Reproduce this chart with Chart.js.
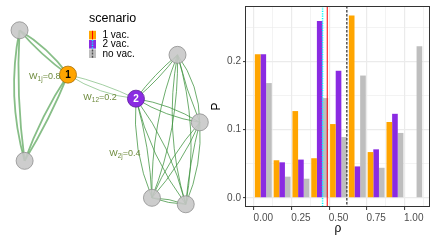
<!DOCTYPE html>
<html><head><meta charset="utf-8">
<script src="https://cdn.jsdelivr.net/npm/chart.js@4/dist/chart.umd.min.js"></script>
<style>
html,body{margin:0;padding:0;background:#fff;width:436px;height:245px;overflow:hidden}
#net{position:absolute;left:0;top:0}
#bar{position:absolute;left:200px;top:0}
</style></head><body>
<canvas id="net" width="436" height="245"></canvas>
<canvas id="bar" width="236" height="245"></canvas>
<script>
// ---------------- histogram data (right panel) ----------------
const rhoBins = [0, 0.125, 0.25, 0.375, 0.5, 0.625, 0.75, 0.875, 1.0];
const oneVac  = [0.210, 0.055, 0.127, 0.058, 0.108, 0.267, 0.067, 0.111, 0.0];
const twoVac  = [0.210, 0.052, 0.056, 0.259, 0.186, 0.046, 0.071, 0.123, 0.0];
const noVac   = [0.168, 0.031, 0.028, 0.146, 0.089, 0.179, 0.044, 0.095, 0.222];
const meanOneVac = 0.425;
const meanTwoVac = 0.394;
const meanNoVac  = 0.555;
const xTickValues = [0, 0.125, 0.25, 0.375, 0.5, 0.625, 0.75, 0.875, 1];
const xTickLabels = ['0.00', '', '0.25', '', '0.50', '', '0.75', '', '1.00'];
const yTickValues = [0, 0.05, 0.1, 0.15, 0.2, 0.25];
const yTickLabels = ['0.0', '', '0.1', '', '0.2', ''];
const scenarioNames = ['1 vac.', '2 vac.', 'no vac.'];

// ---------------- network (left panel) ----------------
const nodeLabels = ['', '1', '', '2', '', '', '', ''];
const nodeKind   = ['other', 'one', 'other', 'two', 'other', 'other', 'other', 'other'];
const nodeX = [10.7, 61.3, 16.0, 132.3, 175.7, 199.0, 149.0, 184.3];
const nodeY = [22.7, 70.7, 164.0, 96.7, 49.3, 122.3, 204.0, 211.0];
// [from, to, bend, group]
const edges = [
  [0,1, 0.03,'c1'], [0,1,-0.05,'c1'],
  [0,2, 0.06,'c1'], [0,2, 0.024,'c1'],
  [1,2, 0.03,'c1'], [1,2,-0.02,'c1'],
  [1,3,-0.027,'link'], [1,3, 0.06,'link'],
  [3,4, 0.03,'c2'], [3,4,-0.03,'c2'],
  [3,5, 0.05,'c2'], [3,5,-0.05,'c2'],
  [3,6, 0.06,'c2'], [3,6,-0.03,'c2'],
  [3,7, 0.05,'c2'], [3,7,-0.05,'c2'],
  [4,5,-0.08,'c2'], [4,5, 0.02,'c2'],
  [4,6, 0.05,'c2'], [4,6,-0.05,'c2'],
  [4,7, 0.06,'c2'], [4,7,-0.06,'c2'],
  [5,6, 0.04,'c2'], [5,6,-0.04,'c2'],
  [5,7,-0.06,'c2'], [5,7, 0.02,'c2'],
  [6,7, 0.04,'c2'], [6,7,-0.04,'c2']
];
const weightLabels = [
  {sub:'1j', val:'=0.8', x:20.7, y:72.7},
  {sub:'12', val:'=0.2', x:77.3, y:96.0},
  {sub:'2j', val:'=0.4', x:104.3, y:156.0}
];

const FONT = '"Liberation Sans", Arial, Helvetica, sans-serif';
const COL_ONE = '#FFA500', COL_TWO = '#8A2BE2', COL_NO = '#BEBEBE';
const LINE_ONE = '#FF0000', LINE_TWO = '#00FFFF', LINE_NO = '#4D4D4D';

// ---------- network chart ----------
const edgeStyle = {
  c1:   {color:'rgba(95,168,95,0.75)', width:1.8},
  c2:   {color:'rgba(60,145,60,0.75)', width:1.0},
  link: {color:'rgba(110,180,110,0.8)', width:0.8}
};
const nodeFill   = {other:'rgba(200,200,200,0.9)', one:COL_ONE, two:COL_TWO};
const nodeBorder = {other:'#8e8e8e', one:'#a86c00', two:'#5a1a99'};

const netPlugin = {
  id:'netPlugin',
  beforeDatasetsDraw(chart){
    const {ctx, scales:{x, y}} = chart;
    ctx.save();
    edges.forEach(([a,b,bend,g])=>{
      const x0 = x.getPixelForValue(nodeX[a]), y0 = y.getPixelForValue(nodeY[a]);
      const x1 = x.getPixelForValue(nodeX[b]), y1 = y.getPixelForValue(nodeY[b]);
      const dx = x1-x0, dy = y1-y0, L = Math.hypot(dx,dy);
      const nx = -dy/L, ny = dx/L;
      const cx = (x0+x1)/2 + nx*bend*L*2, cy = (y0+y1)/2 + ny*bend*L*2;
      ctx.strokeStyle = edgeStyle[g].color;
      ctx.lineWidth = edgeStyle[g].width;
      ctx.beginPath(); ctx.moveTo(x0,y0); ctx.quadraticCurveTo(cx,cy,x1,y1); ctx.stroke();
    });
    ctx.restore();
  },
  afterDatasetsDraw(chart){
    const {ctx, scales:{x, y}} = chart;
    ctx.save();
    // node labels
    ctx.textAlign = 'center'; ctx.textBaseline = 'middle';
    ctx.font = 'bold 10px ' + FONT;
    nodeLabels.forEach((t,i)=>{
      if(!t) return;
      ctx.fillStyle = nodeKind[i]==='two' ? '#ffffff' : '#000000';
      ctx.fillText(t, x.getPixelForValue(nodeX[i]), y.getPixelForValue(nodeY[i])+0.5);
    });
    // weight labels
    ctx.fillStyle = '#6E8B3D';
    ctx.textAlign = 'left';
    weightLabels.forEach(w=>{
      let px = x.getPixelForValue(w.x), py = y.getPixelForValue(w.y);
      ctx.font = '9px ' + FONT; ctx.textBaseline = 'middle';
      ctx.fillText('W', px, py); px += ctx.measureText('W').width;
      ctx.font = '6.5px ' + FONT;
      ctx.fillText(w.sub, px, py+2.5); px += ctx.measureText(w.sub).width;
      ctx.font = '9px ' + FONT;
      ctx.fillText(w.val, px, py);
    });
    // legend
    ctx.fillStyle = '#000';
    ctx.font = '12.5px ' + FONT; ctx.textBaseline = 'middle';
    ctx.fillText('scenario', 89, 19);
    const fills = [COL_ONE, COL_TWO, COL_NO];
    const lines = [LINE_ONE, LINE_TWO, LINE_NO];
    const dashes = [[], [1.2,1.2], [2,1.2]];
    const widths = [1, 1.5, 1.4];
    const tops = [30.8, 40, 49.4];
    scenarioNames.forEach((s,i)=>{
      ctx.fillStyle = fills[i];
      ctx.fillRect(89, tops[i], 7, 8.6);
      ctx.strokeStyle = lines[i]; ctx.lineWidth = widths[i]; ctx.setLineDash(dashes[i]);
      ctx.beginPath(); ctx.moveTo(92.5, tops[i]); ctx.lineTo(92.5, tops[i]+8.6); ctx.stroke();
      ctx.setLineDash([]);
      ctx.fillStyle = '#000'; ctx.font = '10px ' + FONT;
      ctx.fillText(s, 102.5, tops[i]+4.5);
    });
    ctx.restore();
  }
};

new Chart(document.getElementById('net'), {
  type:'scatter',
  data:{datasets:[{
    data: nodeX.map((v,i)=>({x:v, y:nodeY[i]})),
    pointRadius: 8.5,
    pointBackgroundColor: nodeKind.map(k=>nodeFill[k]),
    pointBorderColor: nodeKind.map(k=>nodeBorder[k]),
    pointBorderWidth: 0.8,
    clip: false
  }]},
  options:{
    responsive:false, animation:false,
    layout:{padding:0},
    plugins:{legend:{display:false}, tooltip:{enabled:false}},
    scales:{
      x:{type:'linear', min:0, max:436, display:false},
      y:{type:'linear', min:0, max:245, reverse:true, display:false}
    }
  },
  plugins:[netPlugin]
});

// ---------- histogram chart ----------
const panelPlugin = {
  id:'panelPlugin',
  afterDatasetsDraw(chart){
    const {ctx, chartArea:a, scales:{x}} = chart;
    ctx.save();
    ctx.beginPath(); ctx.rect(a.left, a.top, a.right-a.left, a.bottom-a.top); ctx.clip();
    const vl = (v, color, w, dash)=>{
      const px = x.getPixelForValue(v);
      ctx.strokeStyle = color; ctx.lineWidth = w; ctx.setLineDash(dash);
      ctx.beginPath(); ctx.moveTo(px, a.top); ctx.lineTo(px, a.bottom); ctx.stroke();
    };
    vl(meanOneVac, LINE_ONE, 1, []);
    vl(meanTwoVac, LINE_TWO, 1.5, [1.2,1.2]);
    vl(meanNoVac, LINE_NO, 1.4, [2.5,1.5]);
    ctx.restore();
    ctx.save();
    ctx.strokeStyle = '#333333'; ctx.lineWidth = 1;
    ctx.strokeRect(a.left-0.5, a.top+0.5, a.right-a.left, a.bottom-a.top-1);
    ctx.restore();
  }
};

const mk = (vals)=>rhoBins.map((v,i)=>({x:v, y:vals[i]}));
new Chart(document.getElementById('bar'), {
  type:'bar',
  data:{datasets:[
    {label:scenarioNames[0], data:mk(oneVac), backgroundColor:COL_ONE},
    {label:scenarioNames[1], data:mk(twoVac), backgroundColor:COL_TWO},
    {label:scenarioNames[2], data:mk(noVac),  backgroundColor:COL_NO}
  ]},
  options:{
    responsive:false, animation:false,
    layout:{padding:{left:0, right:6, top:6, bottom:0}},
    datasets:{bar:{categoryPercentage:0.9, barPercentage:1.0, borderWidth:0}},
    plugins:{legend:{display:false}, tooltip:{enabled:false}},
    scales:{
      x:{
        type:'linear', min:-0.115, max:1.108, offset:false,
        afterBuildTicks:s=>{ s.ticks = xTickValues.map(v=>({value:v})); },
        afterFit:s=>{ s.height = 38; s.paddingLeft = 0; s.paddingRight = 0; },
        ticks:{autoSkip:false, maxRotation:0, padding:2, color:'#4D4D4D',
               font:{family:FONT, size:10}, callback:(v,i)=>xTickLabels[i]},
        grid:{color:'#EBEBEB', lineWidth:c=>(c.index%2===0?1.2:0.6),
              tickLength:3, tickWidth:1,
              tickColor:c=>(c.index%2===0?'#333333':'rgba(0,0,0,0)')},
        border:{display:false},
        title:{display:true, text:'ρ', color:'#000', font:{family:FONT, size:12},
               padding:{top:0, bottom:9}}
      },
      y:{
        type:'linear', min:-0.0134, max:0.2808,
        afterBuildTicks:s=>{ s.ticks = yTickValues.map(v=>({value:v})); },
        afterFit:s=>{ s.width = 46; s.paddingTop = 0; s.paddingBottom = 0; },
        ticks:{autoSkip:false, padding:2, color:'#4D4D4D',
               font:{family:FONT, size:10}, callback:(v,i)=>yTickLabels[i]},
        grid:{color:'#EBEBEB', lineWidth:c=>(c.index%2===0?1.2:0.6),
              tickLength:3, tickWidth:1,
              tickColor:c=>(c.index%2===0?'#333333':'rgba(0,0,0,0)')},
        border:{display:false},
        title:{display:true, text:'P', color:'#000', font:{family:FONT, size:12},
               padding:{top:9, bottom:0}}
      }
    }
  },
  plugins:[panelPlugin]
});
</script>
</body></html>
